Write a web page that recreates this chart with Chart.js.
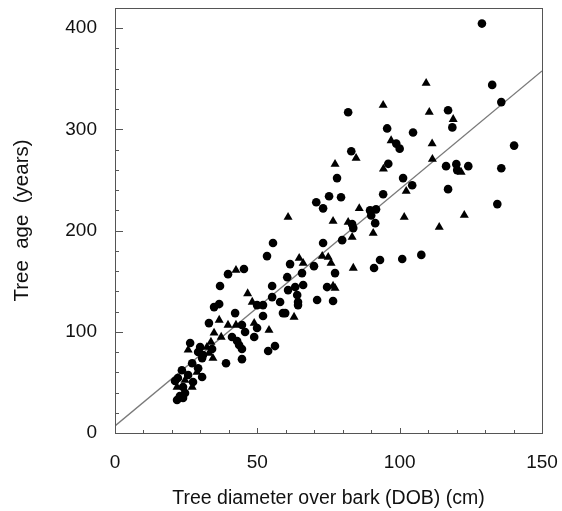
<!DOCTYPE html>
<html>
<head>
<meta charset="utf-8">
<script src="https://cdn.jsdelivr.net/npm/chart.js@4"></script>
<style>
    html, body { margin: 0; padding: 0; background: #fff; }
    #wrap { width: 562px; height: 511px; }
</style>
</head>
<body>
<div id="wrap"><canvas id="chart"></canvas></div>
<script>
// ===============================
// DATA
// ===============================

const circleX = [
    128.9, 132.5, 135.7, 117, 118.5, 104.7, 140.2, 116.3, 119.9, 120.2,
    124.1, 135.7, 101.2, 104.4, 117, 134.3, 107.6, 81.9, 95.6, 98.8,
    100, 83, 96, 78, 75.2, 79.4, 70.7, 73.1, 94.2, 89.6,
    91.7, 90, 91.4, 83.3, 83.7, 79.8, 73.1, 61.5, 69.9, 93.1,
    100.9, 91, 65.7, 77.3, 60.5, 66.1, 63.3, 74.5, 60.8, 64,
    64.3, 64.3, 71, 76.6, 59.8, 55.5, 53.4, 45.3, 39.7, 36.9,
    55.2, 55.2, 58, 49.9, 52, 34.8, 36.6, 42.2, 59, 52,
    33, 44.6, 49.9, 45.7, 48.9, 41.1, 42.9, 26.4, 43.6, 44.6,
    56.2, 53.8, 29.9, 29.2, 34.1, 30.9, 30.6, 44.6, 39, 27.1,
    29.2, 23.5, 30.6, 25.7, 22.1, 21.1, 27.4, 23.9, 24.6, 22.8,
    21.8, 23.9
];
const circleY = [
    404.6, 344, 327, 319, 302, 297, 284, 263.7, 265.7, 259.8,
    263.7, 261.7, 251.9, 244.9, 241, 226.2, 176, 317, 301, 286,
    281, 278.5, 266, 251.9, 234, 233, 228, 222, 236, 220,
    221, 215, 207.4, 206.4, 202.5, 190.6, 187.7, 166.9, 164.9, 170.9,
    171.9, 163, 158, 158, 154, 146.2, 144.2, 144.2, 141.2, 136.3,
    129.4, 126.4, 131.4, 130.4, 118.5, 187.7, 174.8, 162, 157, 145.2,
    145.2, 134.3, 129.4, 126.4, 126.4, 124.4, 127.4, 118.5, 118.5, 115.6,
    108.6, 106.7, 103.7, 99.8, 94.8, 94.8, 90.9, 88.9, 86.9, 83,
    85.9, 81, 84.9, 80, 83, 77, 74, 73, 69, 69,
    64, 62, 55.3, 57.3, 54.3, 51.4, 50.4, 45.4, 39.5, 36.5,
    32.6, 34.6
];

const triangleX = [
    109.3, 110.4, 118.8, 111.4, 111.5, 121.6, 102.3, 101.6, 122.7, 113.9,
    94.2, 97, 84.7, 77.3, 94.3, 85.8, 60.8, 76.6, 81.9, 83.3,
    90.7, 72.8, 74.9, 64.7, 66.1, 75.9, 83.7, 76.6, 77.3, 62.9,
    42.5, 46.6, 48.2, 36.6, 39.7, 42.5, 48.9, 34.8, 54.1, 37.3,
    33.7, 25.7, 32.3, 33, 34.4, 28.8, 24.6, 21.8, 27.1
];
const triangleY = [
    345.7, 317, 310, 286, 270.6, 257.8, 239, 213.3, 215.3, 203.5,
    324, 289, 271.6, 265.7, 261, 222, 213.3, 209.4, 208.4, 193.6,
    197.5, 174.8, 173.8, 172.8, 167.9, 167.9, 163, 145.2, 143.2, 114.6,
    161, 137.8, 129.4, 111.6, 106.7, 106.7, 108.6, 98.8, 101.7, 94.8,
    89.9, 82, 84.9, 79, 74, 60.2, 52.3, 45.4, 45.4
];

// fitted line end points
const lineX = [0, 150];
const lineY = [7, 357.8];

const xTickLabels = [0, 50, 100, 150];
const yTickLabels = [0, 100, 200, 300, 400];

// ===============================
// CHART
// ===============================

const toPoints = (xs, ys) => xs.map((x, i) => ({ x: x, y: ys[i] }));

const fontFamily = "'Liberation Sans', Arial, Helvetica, sans-serif";

// box + inward tick marks
const framePlugin = {
    id: "frame",
    afterDraw(chart) {
        const { ctx, chartArea: a, scales } = chart;
        ctx.save();
        ctx.strokeStyle = "#555";
        ctx.lineWidth = 1;
        ctx.beginPath();
        for (let v = 0; v <= 150; v += 10) {
            const px = Math.round(scales.x.getPixelForValue(v)) + 0.5;
            const len = v % 50 === 0 ? 5 : 3;
            ctx.moveTo(px, a.bottom);
            ctx.lineTo(px, a.bottom - len);
        }
        for (let v = 0; v < 420; v += 20) {
            const py = Math.round(scales.y.getPixelForValue(v)) + 0.5;
            const len = v % 100 === 0 ? 8 : 4;
            ctx.moveTo(a.left, py);
            ctx.lineTo(a.left + len, py);
        }
        ctx.stroke();
        ctx.strokeRect(Math.round(a.left) + 0.5, Math.round(a.top) + 0.5,
            Math.round(a.right - a.left), Math.round(a.bottom - a.top));
        ctx.restore();
    }
};

new Chart(document.getElementById("chart"), {
    type: "scatter",
    data: {
        datasets: [
            {
                type: "line",
                data: toPoints(lineX, lineY),
                borderColor: "#7a7a7a",
                borderWidth: 1.3,
                pointRadius: 0,
                fill: false,
                order: 3
            },
            {
                data: toPoints(circleX, circleY),
                pointStyle: "circle",
                pointRadius: 4.3,
                backgroundColor: "#000",
                borderWidth: 0,
                order: 1
            },
            {
                data: toPoints(triangleX, triangleY),
                pointStyle: "triangle",
                pointRadius: 5.2,
                backgroundColor: "#000",
                borderWidth: 0,
                order: 2
            }
        ]
    },
    options: {
        responsive: true,
        maintainAspectRatio: false,
        animation: false,
        layout: { padding: { top: 8, right: 20, left: 0, bottom: 0 } },
        plugins: { legend: { display: false }, tooltip: { enabled: false } },
        scales: {
            x: {
                type: "linear",
                min: 0,
                max: 150,
                afterFit: (s) => { s.height = 78; s.paddingLeft = 0; s.paddingRight = 0; },
                afterBuildTicks: (s) => { s.ticks = xTickLabels.map(v => ({ value: v })); },
                grid: { display: false, drawTicks: false },
                border: { display: false },
                ticks: {
                    color: "#111",
                    padding: 18,
                    maxRotation: 0,
                    font: { family: fontFamily, size: 19 }
                },
                title: {
                    display: true,
                    text: "Tree diameter over bark (DOB) (cm)",
                    color: "#111",
                    font: { family: fontFamily, size: 19.5 },
                    padding: { top: 0, bottom: 1 }
                }
            },
            y: {
                type: "linear",
                min: 0,
                max: 420,
                afterFit: (s) => { s.width = 115; s.paddingTop = 0; s.paddingBottom = 0; },
                afterBuildTicks: (s) => { s.ticks = yTickLabels.map(v => ({ value: v })); },
                grid: { display: false, drawTicks: false },
                border: { display: false },
                ticks: {
                    color: "#111",
                    padding: 18,
                    font: { family: fontFamily, size: 19 }
                },
                title: {
                    display: true,
                    text: "Tree  age  (years)",
                    color: "#111",
                    font: { family: fontFamily, size: 20.5 },
                    padding: { top: 10, bottom: 0 }
                }
            }
        }
    },
    plugins: [framePlugin]
});
</script>
</body>
</html>
